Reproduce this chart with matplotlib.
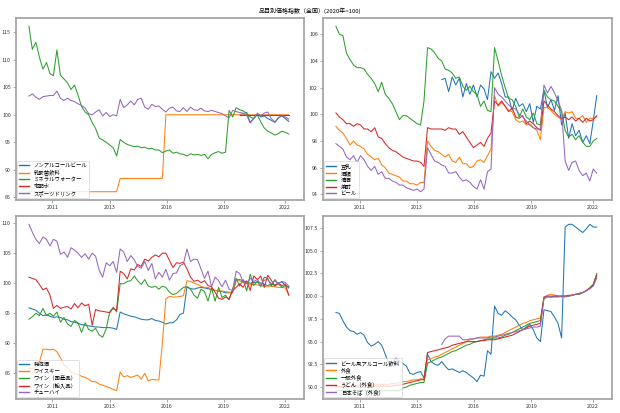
import numpy as np
import pandas as pd
import matplotlib
matplotlib.use("Agg")
import matplotlib.pyplot as plt

plt.rcParams['font.family'] = ['Noto Sans CJK JP', 'DejaVu Sans']

# bi-monthly sampling, 2010-01 .. 2022-05
dates = pd.date_range('2010-01-01', periods=75, freq='2MS')

title = "品目別価格指数（全国）(2020年=100)"
xtick_dates = ['2011-02-12', '2013-11-03', '2016-07-12', '2019-03-28', '2022-02-21']
xtick_labels = ['2011', '2013', '2016', '2019', '2022']
xlim_dates = ['2009-05-17', '2023-01-14']

N = None
# ---------------- panel 1 ----------------
p1_names = ['ノンアルコールビール', '乳酸菌飲料', 'ミネラルウォーター', '宅配水', 'スポーツドリンク']
nonalc_beer = [N]*60 + [100.0, 100.2, 100.4, 98.6, 99.4, 100.1, 99.6, 99.8, 99.3, 99.0, 98.6, 99.4, 99.8, 99.3, 98.8]
lactic = [86.0]*26 + [88.4]*13 + [100.0]*36
mineral = [116.1, 111.9, 113.2, 110.5, 108.3, 109.5, 107.5, 107.1, 111.8, 107.2,
           106.5, 105.8, 104.6, 105.4, 103.6, 101.5, 100.5, 100.0, 98.6, 97.5,
           95.8, 95.4, 95.0, 94.5, 94.0, 92.5, 95.5, 95.0, 94.6, 94.4,
           94.2, 94.3, 94.0, 94.1, 93.8, 93.9, 93.6, 93.6, 93.1, 93.4,
           93.6, 93.0, 93.2, 92.9, 92.8, 92.5, 92.9, 92.7, 92.8, 92.6,
           92.8, 92.0, 92.8, 93.1, 93.3, 93.0, 93.2, 100.8, 99.6, 101.3,
           100.9, 100.7, 100.3, 99.6, 99.3, 100.0, 98.7, 97.6, 97.0, 96.7,
           96.3, 96.6, 97.0, 96.8, 96.5]
water_delivery = [N]*60 + [100.0]*15
sports = [103.4, 103.8, 103.2, 102.8, 103.3, 103.4, 103.5, 103.5, 104.3, 103.0,
          102.6, 103.0, 102.6, 102.4, 102.0, 101.7, 101.2, 100.2, 100.0, 100.5,
          100.9, 99.8, 100.4, 99.7, 100.0, 99.8, 102.8, 101.3, 101.8, 102.5,
          101.8, 102.8, 103.0, 101.4, 101.0, 101.9, 101.5, 101.6, 101.0, 100.5,
          101.2, 101.4, 100.7, 100.6, 101.3, 100.6, 101.4, 100.9, 100.8, 101.2,
          100.7, 100.6, 100.8, 100.6, 100.4, 100.2, 99.8, 99.4, 100.8, 100.6,
          100.4, 100.3, 99.9, 98.5, 99.3, 100.3, 99.8, 100.3, 100.5, 99.3,
          98.7, 99.5, 99.8, 99.6, 99.2]

# ---------------- panel 2 ----------------
p2_names = ['豆乳', '酒類', '清酒', '焼酎', 'ビール']
soymilk = [N]*30 + [102.6, 102.7, 101.7, 102.8, 102.2, 102.7, 101.3, 102.3, 101.5, 102.2,
                    101.3, 102.2, 101.9, 101.1, 103.2, 102.7, 103.1, 102.3, 101.3, 101.3,
                    100.3, 101.2, 100.6, 100.8, 100.2, 100.8, 99.4, 100.6, 100.4, 101.8,
                    100.5, 101.1, 100.3, 101.4, 99.2, 100.1, 98.2, 99.3, 98.4, 98.8,
                    97.9, 98.4, 97.8, 99.5, 101.4]
alcohol = [99.1, 98.8, 98.6, 98.2, 97.7, 98.0, 97.7, 97.6, 97.4, 97.0,
           96.8, 96.6, 96.7, 96.2, 96.0, 95.6, 95.5, 95.4, 95.3, 95.0,
           95.0, 94.8, 94.8, 94.7, 94.9, 94.9, 98.0, 97.6, 97.3, 97.2,
           97.0, 96.8, 97.0, 96.5, 96.4, 96.8, 96.3, 96.3, 96.0, 96.1,
           96.5, 96.6, 96.4, 96.9, 97.4, 101.4, 100.6, 100.9, 100.6, 100.3,
           100.2, 99.6, 99.4, 99.5, 99.2, 99.3, 99.0, 98.8, 98.1, 100.5,
           100.5, 100.3, 100.0, 99.8, 99.6, 100.2, 100.1, 100.2, 99.7, 99.7,
           99.9, 99.4, 99.7, 99.7, 99.8]
sake = [106.6, 106.0, 105.9, 104.6, 104.1, 103.7, 103.5, 103.5, 103.4, 103.0,
        102.7, 102.3, 101.7, 102.4, 101.5, 101.2, 100.8, 100.2, 99.6, 99.9,
        99.9, 99.7, 99.5, 99.3, 99.2, 101.0, 105.0, 104.9, 104.6, 104.2,
        104.0, 103.4, 103.3, 103.1, 102.7, 102.8, 102.1, 101.8, 102.1, 101.7,
        101.5, 100.6, 101.0, 100.3, 100.2, 105.0, 104.0, 102.9, 102.0, 101.2,
        101.1, 100.6, 99.8, 100.4, 99.8, 99.6, 100.1, 99.3, 99.2, 101.8,
        101.3, 101.1, 101.0, 100.6, 100.2, 98.8, 98.3, 98.5, 98.1, 98.4,
        97.9, 97.6, 97.6, 98.0, 98.2]
shochu = [100.1, 99.8, 99.6, 99.3, 99.3, 99.1, 99.3, 99.2, 98.9, 98.9,
          98.7, 99.0, 98.3, 98.2, 97.8, 97.5, 97.3, 97.2, 97.0, 96.8,
          96.7, 96.6, 96.5, 96.5, 96.4, 96.1, 99.0, 98.9, 98.9, 98.9,
          98.9, 98.8, 99.0, 98.9, 98.9, 98.5, 98.7, 98.3, 97.9, 97.5,
          97.7, 97.9, 97.6, 98.2, 98.6, 101.0, 100.7, 101.0, 100.6, 100.2,
          100.5, 99.8, 99.7, 99.9, 99.3, 99.5, 99.3, 99.0, 98.8, 101.0,
          100.7, 100.4, 100.2, 99.9, 99.7, 99.8, 99.6, 99.8, 99.5, 99.7,
          99.4, 99.7, 99.5, 99.6, 99.9]
beer = [97.8, 97.6, 97.4, 96.8, 96.6, 96.9, 96.4, 96.9, 96.6, 96.1,
        95.8, 96.1, 95.5, 95.7, 95.2, 95.2, 95.0, 94.9, 94.7, 94.7,
        94.5, 94.4, 94.3, 94.4, 94.2, 94.4, 97.5, 97.0, 96.5, 96.4,
        96.2, 96.1, 95.6, 95.6, 95.7, 95.3, 95.0, 95.1, 94.9, 94.6,
        94.4, 95.1, 94.4, 95.7, 95.9, 102.0, 101.5, 101.3, 101.0, 100.7,
        100.5, 100.4, 100.0, 99.8, 99.5, 99.2, 99.0, 98.9, 98.9, 102.2,
        101.6, 102.1, 101.6, 101.0, 100.3, 96.5, 95.8, 96.4, 96.5, 95.8,
        95.4, 95.6, 95.0, 95.9, 95.6]

# ---------------- panel 3 ----------------
p3_names = ['発泡酒', 'ウイスキー', 'ワイン（国産品）', 'ワイン（輸入品）', 'チューハイ']
happoshu = [95.9, 95.7, 95.5, 95.0, 94.6, 94.7, 94.5, 94.3, 94.4, 94.3,
            94.0, 93.9, 93.6, 93.5, 93.3, 93.1, 93.0, 92.9, 92.8, 92.7,
            92.7, 92.6, 92.6, 92.6, 92.5, 92.3, 95.2, 94.9, 94.7, 94.5,
            94.4, 94.2, 94.0, 93.9, 93.9, 94.1, 93.8, 93.7, 93.5, 93.2,
            93.4, 93.4, 93.9, 94.8, 95.0, 99.4, 99.1, 99.0, 99.2, 99.3,
            99.2, 99.1, 98.9, 98.8, 98.7, 98.6, 98.4, 98.4, 98.4, 100.5,
            100.6, 100.4, 100.2, 100.0, 100.1, 100.2, 100.0, 99.8, 99.6, 99.8,
            99.7, 100.0, 100.2, 99.7, 99.2]
whisky = [85.8, 85.8, 85.9, 86.8, 89.0, 89.0, 88.9, 89.0, 88.6, 87.6,
          86.4, 85.9, 85.2, 84.9, 84.8, 84.5, 84.3, 84.0, 83.6, 83.6,
          83.2, 83.0, 82.8, 82.6, 82.3, 82.1, 85.2, 84.4, 84.6, 84.3,
          84.5, 84.7, 84.0, 85.0, 83.7, 84.0, 83.9, 83.9, 90.0, 97.4,
          97.8, 97.7, 97.7, 97.8, 97.9, 100.4, 100.3, 100.0, 99.8, 99.5,
          99.3, 99.3, 99.0, 98.8, 98.7, 98.7, 98.6, 98.5, 98.5, 100.7,
          100.4, 100.1, 100.0, 99.8, 99.8, 99.7, 99.6, 99.5, 99.5, 99.5,
          99.4, 99.3, 99.3, 99.2, 98.0]
wine_dom = [94.0, 94.4, 95.0, 94.6, 95.8, 94.6, 95.0, 94.5, 95.2, 93.5,
            94.3, 93.2, 92.8, 93.8, 93.4, 91.8, 93.4, 92.3, 92.0, 92.5,
            91.4, 91.0, 92.4, 95.2, 96.0, 95.2, 99.9, 99.9, 100.3, 100.4,
            101.2, 100.4, 99.8, 100.6, 99.5, 99.3, 99.5, 99.0, 99.5, 99.3,
            98.5, 98.1, 98.3, 98.8, 99.3, 99.4, 99.0, 98.0, 97.5, 99.0,
            98.6, 97.0, 99.2, 97.0, 99.3, 97.6, 98.0, 97.2, 99.0, 100.8,
            99.5, 100.6, 98.7, 101.5, 99.6, 100.3, 99.4, 101.0, 100.8, 99.5,
            100.6, 99.9, 99.3, 99.6, 99.4]
wine_imp = [101.0, 100.8, 100.6, 99.8, 98.9, 99.2, 98.0, 95.8, 96.3, 95.8,
            96.0, 96.1, 95.7, 96.6, 95.9, 96.7, 96.2, 96.5, 93.0, 95.6,
            95.4, 95.3, 95.2, 95.1, 95.8, 95.5, 102.0, 101.6, 100.7, 102.4,
            102.2, 103.1, 102.8, 104.0, 103.7, 104.3, 104.7, 104.4, 105.0, 105.0,
            103.8, 102.6, 103.4, 103.3, 103.5, 102.4, 101.0, 100.3, 100.5, 100.1,
            100.4, 99.6, 99.4, 98.5, 97.5, 97.3, 97.7, 97.4, 98.8, 99.3,
            99.9, 99.3, 100.4, 98.8, 101.2, 100.6, 101.2, 99.3, 101.3, 100.5,
            99.5, 100.0, 99.6, 99.8, 98.0]
chuhai = [109.8, 108.5, 107.3, 106.6, 107.7, 107.3, 106.2, 107.3, 107.0, 104.8,
          105.2, 104.3, 105.9, 105.5, 105.0, 104.3, 104.9, 104.0, 105.0, 104.5,
          102.2, 101.0, 103.4, 102.9, 103.6, 101.8, 105.7, 105.2, 103.6, 104.6,
          103.9, 102.8, 102.5, 103.6, 102.1, 103.3, 100.7, 101.8, 101.0, 102.3,
          100.5, 101.6, 101.7, 102.9, 103.2, 105.7, 103.6, 104.0, 103.9, 102.4,
          100.8, 102.0, 99.4, 101.0, 100.4, 99.4, 100.5, 99.0, 98.8, 102.0,
          101.6, 100.2, 99.9, 100.8, 100.3, 100.6, 99.8, 100.5, 100.6, 99.9,
          100.4, 99.9, 100.3, 100.1, 99.5]

# ---------------- panel 4 ----------------
p4_names = ['ビール風アルコール飲料', '外食', '一般外食', 'うどん（外食）', '日本そば（外食）']
beer_like = [98.2, 98.1, 97.3, 96.6, 96.2, 96.1, 95.8, 96.0, 95.7, 94.9,
             94.5, 94.7, 95.0, 94.6, 93.6, 92.6, 92.6, 93.2, 92.8, 92.6,
             92.3, 91.5, 91.4, 91.6, 91.7, 91.0, 93.6, 92.8, 92.5, 92.4,
             92.8, 92.3, 91.9, 92.0, 91.8, 91.6, 91.8, 91.6, 91.3, 91.0,
             90.6, 91.3, 91.2, 94.0, 93.6, 98.9, 98.1, 97.9, 98.4, 98.1,
             97.7, 97.4, 96.8, 96.3, 96.6, 96.9, 96.3, 95.4, 95.0, 98.5,
             98.4, 98.3, 97.7, 97.0, 95.4, 107.6, 107.9, 107.9, 107.6, 107.3,
             107.0, 107.4, 107.9, 107.6, 107.6]
eating_out = [90.0, 90.0, 90.1, 90.1, 90.1, 90.2, 90.2, 90.2, 90.2, 90.2,
              90.3, 90.3, 90.3, 90.3, 90.3, 90.3, 90.4, 90.4, 90.5, 90.6,
              90.6, 90.7, 90.8, 90.8, 90.9, 90.9, 93.0, 93.1, 93.3, 93.4,
              93.6, 93.8, 94.0, 94.2, 94.4, 94.6, 94.8, 95.0, 95.2, 95.3,
              95.4, 95.5, 95.5, 95.5, 95.6, 95.6, 95.7, 95.8, 96.0, 96.2,
              96.4, 96.6, 96.8, 97.0, 97.1, 97.3, 97.4, 97.5, 97.6, 99.9,
              100.1, 100.2, 100.1, 100.0, 99.9, 99.9, 100.0, 100.1, 100.2, 100.2,
              100.4, 100.6, 100.9, 101.3, 102.2]
general_eating = [89.6, 89.6, 89.6, 89.6, 89.6, 89.6, 89.6, 89.6, 89.6, 89.6,
                  89.6, 89.6, 89.6, 89.6, 89.6, 89.6, 89.6, 89.6, 89.6, 89.9,
                  90.0, 90.2, 90.3, 90.4, 90.5, 90.5, 92.6, 92.8, 93.0, 93.2,
                  93.3, 93.5, 93.7, 93.9, 94.0, 94.2, 94.4, 94.6, 94.7, 94.9,
                  95.0, 95.1, 95.2, 95.3, 95.3, 95.4, 95.4, 95.5, 95.7, 95.8,
                  96.0, 96.2, 96.4, 96.6, 96.8, 97.0, 97.1, 97.2, 97.3, 99.7,
                  99.9, 99.9, 100.0, 100.0, 100.0, 100.0, 100.0, 100.1, 100.2, 100.2,
                  100.4, 100.6, 100.9, 101.3, 102.5]
udon = [90.0, 90.0, 90.0, 90.0, 90.0, 90.0, 90.0, 90.0, 90.0, 90.0,
        90.1, 90.1, 90.1, 90.1, 90.1, 90.1, 90.1, 90.2, 90.2, 90.3,
        90.4, 90.5, 90.6, 90.7, 90.8, 90.8, 93.8, 93.9, 94.0, 94.1,
        94.2, 94.3, 94.4, 94.6, 94.7, 94.8, 94.9, 95.0, 95.0, 95.0,
        95.0, 95.1, 95.1, 95.2, 95.2, 95.2, 95.3, 95.4, 95.5, 95.6,
        95.7, 95.9, 96.1, 96.3, 96.5, 96.7, 96.8, 96.9, 97.0, 99.9,
        100.0, 100.0, 100.0, 100.0, 100.0, 100.0, 100.1, 100.1, 100.2, 100.3,
        100.4, 100.6, 100.9, 101.2, 102.3]
soba = [N]*30 + [94.7, 95.3, 95.6, 95.6, 95.6, 95.6, 95.2, 95.2, 95.3, 95.3,
                 95.4, 95.4, 95.4, 95.4, 95.5, 95.5, 95.6, 95.7, 95.8, 95.9,
                 96.0, 96.1, 96.2, 96.3, 96.4, 96.5, 96.6, 96.6, 96.7, 99.8,
                 100.0, 99.9, 99.9, 99.9, 100.0, 100.0, 100.0, 100.1, 100.2, 100.3,
                 100.4, 100.6, 100.8, 101.1, 102.0]

panels = [
    (p1_names, [nonalc_beer, lactic, mineral, water_delivery, sports]),
    (p2_names, [soymilk, alcohol, sake, shochu, beer]),
    (p3_names, [happoshu, whisky, wine_dom, wine_imp, chuhai]),
    (p4_names, [beer_like, eating_out, general_eating, udon, soba]),
]

colors = ['#1f77b4', '#ff7f0e', '#2ca02c', '#d62728', '#9467bd']

fig = plt.figure(figsize=(6.2, 4.13), dpi=100)
W = 620.0
H = 413.0
rects = [
    (15.7, 18.0, 288.0, 182.0),
    (322.7, 18.0, 289.0, 182.0),
    (15.7, 216.0, 288.0, 183.0),
    (322.7, 216.0, 289.0, 183.0),
]
fig.suptitle(title, fontsize=4.3, y=1 - 7.5 / H)

xticks = pd.to_datetime(xtick_dates)
xlim = pd.to_datetime(xlim_dates)

for (names, series), (l, t, w, h) in zip(panels, rects):
    ax = fig.add_axes([l / W, 1 - (t + h) / H, w / W, h / H])
    for name, vals, c in zip(names, series, colors):
        y = np.array([np.nan if v is None else v for v in vals], dtype=float)
        ax.plot(dates, y, color=c, lw=0.75, label=name)
    ax.set_xlim(xlim[0], xlim[1])
    ax.set_xticks(xticks)
    ax.set_xticklabels(xtick_labels)
    ax.tick_params(labelsize=3.8, length=2, width=0.5, color='#888888', pad=1.5,
                   labelcolor='#333333')
    for s in ax.spines.values():
        s.set_color('#a0a0a0')
        s.set_linewidth(1.2)
    leg = ax.legend(loc='lower left', fontsize=3.9, handlelength=1.8,
                    labelspacing=0.3, borderaxespad=0.3, borderpad=0.4,
                    handletextpad=0.8, framealpha=0.8)
    leg.get_frame().set_linewidth(0.5)
    for line in leg.get_lines():
        line.set_linewidth(1.0)

fig.savefig('out.png', dpi=100)
